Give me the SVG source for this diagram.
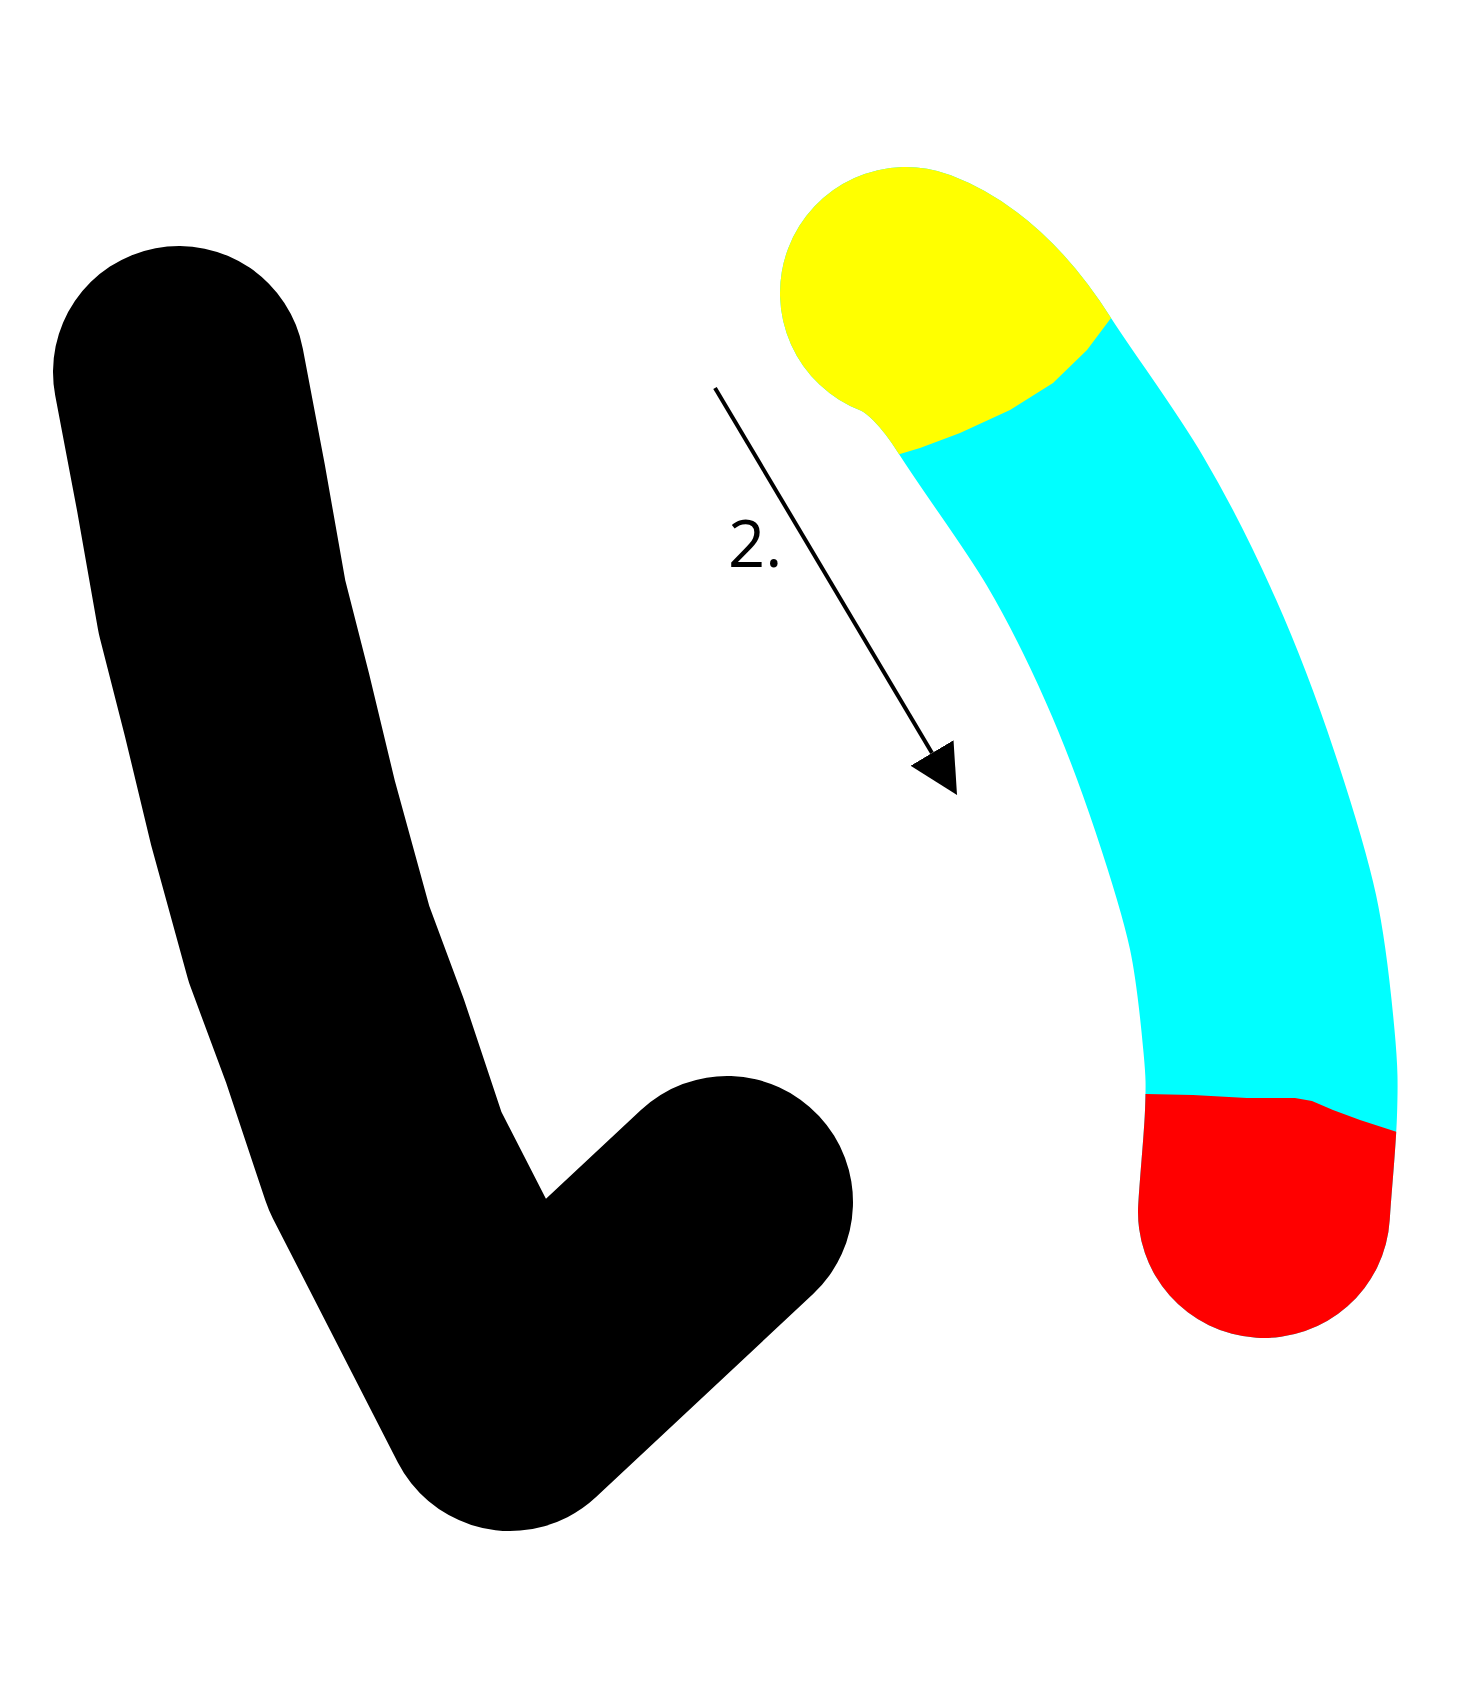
<svg xmlns="http://www.w3.org/2000/svg" width="1474" height="1701" viewBox="0 0 1474 1701">
<style>
.stroke{fill:none;stroke-width:252;stroke-linecap:round;stroke-linejoin:round}
.lbl{font-family:"Open Sans","Liberation Sans",sans-serif;font-size:65px;fill:#000}
</style>
<defs>
<path id="curve" d="M906,293 C948,309 981,348 1005,386 C1032,428 1069,477 1095,521 C1121,565 1141,606 1161,651 C1181,696 1200,747 1215,792 C1230,837 1244,881 1253,922 C1262,964 1266,1009 1269,1041 C1272,1073 1272,1085 1271,1113 C1270,1142 1266,1179 1264,1212"/>
<clipPath id="clipY"><polygon points="600,560 900,454 920,448 960,433 1010,410 1053,383 1087,350 1111,318 1200,200 1200,0 600,0"/></clipPath>
<clipPath id="clipR"><polygon points="1000,1094 1146,1094 1193,1095 1247,1098 1295,1098 1312,1101 1333,1110 1360,1120 1397,1132 1500,1170 1500,1500 1000,1500"/></clipPath>
<marker id="head" viewBox="0 0 49 50" markerWidth="49" markerHeight="50" refX="0" refY="25" orient="auto" markerUnits="userSpaceOnUse"><path d="M0,0 L49,25 L0,50 z" fill="#000"/></marker>
</defs>
<rect width="1474" height="1701" fill="#fff"/>
<g id="black-stroke">
<path class="stroke" stroke="#000" d="M179,372 L201,488 L222,607 L247,705 L273,813 L309,944 L345,1041 L385,1161 L510,1405 L727,1202"/>
</g>
<g id="colored-stroke">
<use href="#curve" class="stroke" stroke="#00ffff"/>
<use href="#curve" class="stroke" stroke="#ffff00" clip-path="url(#clipY)"/>
<use href="#curve" class="stroke" stroke="#ff0000" clip-path="url(#clipR)"/>
</g>
<g id="connectors">
<line x1="715" y1="388" x2="932" y2="753" stroke="#000" stroke-width="4" marker-end="url(#head)"/>
</g>
<text class="lbl" x="728" y="567">2.</text>
</svg>
